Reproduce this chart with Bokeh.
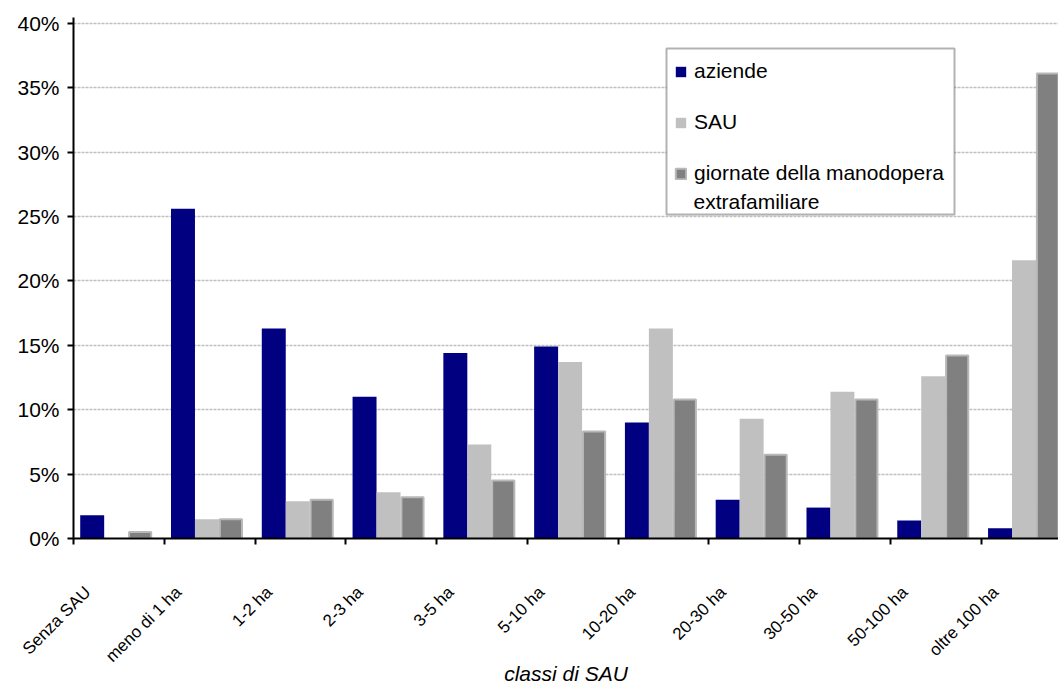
from math import pi

import numpy as np
from bokeh.embed import file_html
from bokeh.models import (BoxAnnotation, ColumnDataSource, FixedTicker, Label,
                          Legend, LegendItem, PrintfTickFormatter, Range1d)
from bokeh.plotting import figure
from bokeh.resources import INLINE
from bokeh.transform import dodge

# Farm-size classes (classi di SAU)
classes = ["Senza SAU", "meno di 1 ha", "1-2 ha", "2-3 ha", "3-5 ha", "5-10 ha",
           "10-20 ha", "20-30 ha", "30-50 ha", "50-100 ha", "oltre 100 ha"]

# Share of each class (%)
aziende = [1.8, 25.6, 16.3, 11.0, 14.4, 14.9, 9.0, 3.0, 2.4, 1.4, 0.8]
sau = [0.0, 1.5, 2.9, 3.6, 7.3, 13.7, 16.3, 9.3, 11.4, 12.6, 21.6]
giornate = [0.5, 1.5, 3.0, 3.2, 4.5, 8.3, 10.8, 6.5, 10.8, 14.2, 36.1]

y_ticks = [0, 5, 10, 15, 20, 25, 30, 35, 40]

FONT = "Liberation Sans"
FONT_SIZE = "21px"
BAR_W = 0.264
LABEL_SHIFT = 0.34375   # class names end a little left of the group centre

n = len(classes)
centers = np.arange(n) + 0.5

src = ColumnDataSource(dict(x=centers, aziende=aziende, sau=sau, giornate=giornate))

p = figure(width=1058, height=688,
           x_range=Range1d(0, 10.85), y_range=Range1d(0, 40.45),
           output_backend="svg", toolbar_location=None,
           min_border_left=73, min_border_right=0,
           min_border_top=17, min_border_bottom=148)
p.outline_line_color = None
p.background_fill_color = "white"
p.border_fill_color = "white"

r_az = p.vbar(x=dodge("x", -0.03 - BAR_W), top="aziende", width=BAR_W, source=src,
              fill_color="#000080", line_color=None)
r_sau = p.vbar(x=dodge("x", -0.03), top="sau", width=BAR_W, source=src,
               fill_color="#c0c0c0", line_color=None)
r_gio = p.vbar(x=dodge("x", -0.03 + BAR_W), top="giornate", width=BAR_W - 0.02, source=src,
               fill_color="#808080", line_color="#b8b8b8", line_width=2)

# y axis
p.yaxis.ticker = FixedTicker(ticks=y_ticks)
p.yaxis.formatter = PrintfTickFormatter(format="%d%%")
p.yaxis.major_label_text_font = FONT
p.yaxis.major_label_text_font_size = FONT_SIZE
p.yaxis.major_label_text_color = "black"
p.yaxis.major_label_standoff = 8
p.yaxis.axis_line_width = 2
p.yaxis.axis_line_color = "black"
p.yaxis.major_tick_line_width = 2
p.yaxis.major_tick_line_color = "black"
p.yaxis.major_tick_out = 6
p.yaxis.major_tick_in = 0
p.yaxis.minor_tick_line_color = None

p.ygrid.grid_line_color = "#c0c0c0"
p.ygrid.grid_line_width = 1.5
p.ygrid.grid_line_dash = "3 1"
p.xgrid.grid_line_color = None

# x axis: class names (rotated) plus short ticks between the classes
label_pos = [float(c - LABEL_SHIFT) for c in centers]
p.xaxis.ticker = FixedTicker(ticks=label_pos, minor_ticks=list(range(n + 1)))
p.xaxis.major_label_overrides = {pos: name for pos, name in zip(label_pos, classes)}
p.xaxis.major_label_orientation = pi / 4
p.xaxis.major_label_text_font = FONT
p.xaxis.major_label_text_font_size = "17px"
p.xaxis.major_label_text_color = "black"
p.xaxis.major_label_standoff = 45
p.xaxis.major_tick_out = 0
p.xaxis.major_tick_in = 0
p.xaxis.major_tick_line_color = None
p.xaxis.minor_tick_out = 6
p.xaxis.minor_tick_in = 0
p.xaxis.minor_tick_line_width = 2
p.xaxis.minor_tick_line_color = "black"
p.xaxis.axis_line_width = 2
p.xaxis.axis_line_color = "black"
p.xaxis.axis_label = "classi di SAU"
p.xaxis.axis_label_text_font = FONT
p.xaxis.axis_label_text_font_size = FONT_SIZE
p.xaxis.axis_label_text_font_style = "italic"
p.xaxis.axis_label_text_color = "black"
p.xaxis.axis_label_standoff = -13

# legend frame
p.add_layout(BoxAnnotation(left=593, right=881, top=490, bottom=324,
                           left_units="screen", right_units="screen",
                           top_units="screen", bottom_units="screen",
                           fill_color="white", fill_alpha=1,
                           line_color="black", line_width=2))

legend = Legend(items=[
    LegendItem(label="aziende", renderers=[r_az]),
    LegendItem(label="SAU", renderers=[r_sau]),
    LegendItem(label="giornate della manodopera", renderers=[r_gio]),
], location=(593, 342))
legend.label_text_font = FONT
legend.label_text_font_size = FONT_SIZE
legend.label_text_color = "black"
legend.glyph_width = 13
legend.glyph_height = 13
legend.label_standoff = 7
legend.padding = 8
legend.spacing = 21
legend.margin = 0
legend.label_height = 30
legend.border_line_alpha = 0
legend.background_fill_alpha = 0
p.add_layout(legend)

p.add_layout(Label(x=620, y=337, x_units="screen", y_units="screen",
                   text="extrafamiliare", text_baseline="middle",
                   text_font=FONT, text_font_size=FONT_SIZE, text_color="black"))

open("out.html", "w").write(file_html(p, INLINE))
